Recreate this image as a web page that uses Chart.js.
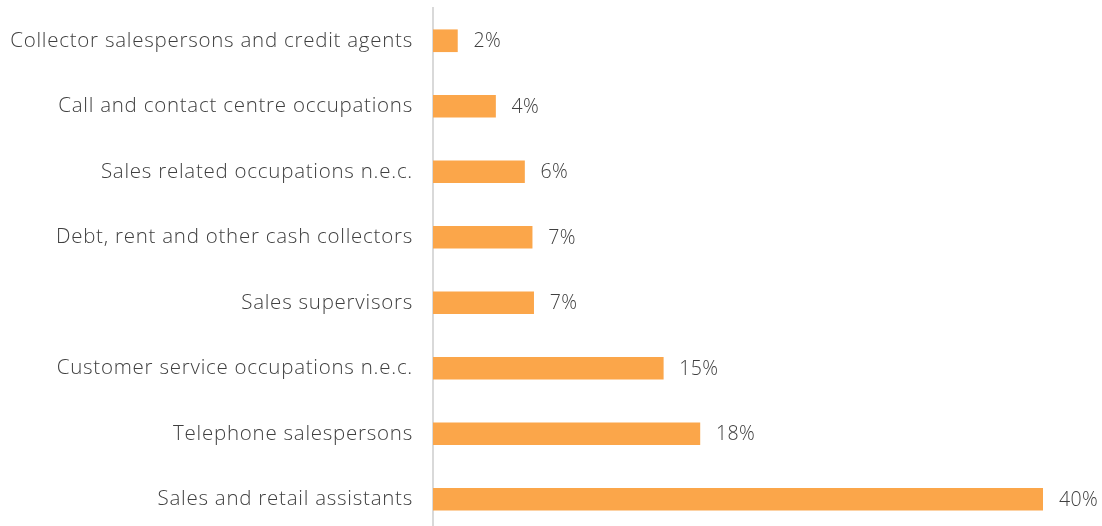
<!DOCTYPE html>
<html><head><meta charset="utf-8">
<script src="https://cdn.jsdelivr.net/npm/chart.js@4/dist/chart.umd.min.js"></script>
<style>
html,body{margin:0;padding:0;background:#fff;overflow:hidden;width:1102px;height:526px;}
canvas{display:block;}
</style></head><body>
<canvas id="c" width="1102" height="532" style="width:1102px;height:532px"></canvas>
<script>
const categories = [
  "Collector salespersons and credit agents",
  "Call and contact centre occupations",
  "Sales related occupations n.e.c.",
  "Debt, rent and other cash collectors",
  "Sales supervisors",
  "Customer service occupations n.e.c.",
  "Telephone salespersons",
  "Sales and retail assistants"
];
const values = [1.6, 4.1, 6.0, 6.5, 6.6, 15.1, 17.5, 40.0];
const valueLabels = ["2%", "4%", "6%", "7%", "7%", "15%", "18%", "40%"];

const FONT = "'Open Sans', sans-serif";
const TEXT = "#404040";
const SPACING = "0.75px";

const labelPlugin = {
  id: 'valLabels',
  beforeDraw(chart) { chart.ctx.letterSpacing = SPACING; },
  afterDatasetsDraw(chart) {
    const ctx = chart.ctx;
    const meta = chart.getDatasetMeta(0);
    ctx.save();
    ctx.letterSpacing = "0.4px";
    ctx.font = "300 19.5px " + FONT;
    ctx.fillStyle = TEXT;
    ctx.textAlign = 'left';
    ctx.textBaseline = 'middle';
    meta.data.forEach((bar, i) => {
      ctx.fillText(valueLabels[i], bar.x + 16, bar.y + 1);
    });
    ctx.restore();
  }
};

new Chart(document.getElementById('c'), {
  type: 'bar',
  data: {
    labels: categories,
    datasets: [{
      data: values,
      backgroundColor: '#FBA64A',
      borderWidth: 0,
      barThickness: 22
    }]
  },
  options: {
    indexAxis: 'y',
    responsive: false,
    animation: false,
    layout: { padding: { top: 8, bottom: 0, left: 0, right: 59 } },
    plugins: { legend: { display: false }, tooltip: { enabled: false } },
    scales: {
      x: { display: false, min: 0, max: 40 },
      y: {
        afterFit(scale) { scale.width = 433; scale.paddingTop = 0; scale.paddingBottom = 0; },
        grid: { display: false, drawTicks: false },
        border: { display: true, color: '#d9d9d9', width: 2 },
        ticks: { color: TEXT, font: { family: FONT, size: 20.5, weight: 300 }, padding: 20 }
      }
    }
  },
  plugins: [labelPlugin]
});
</script>
</body></html>
